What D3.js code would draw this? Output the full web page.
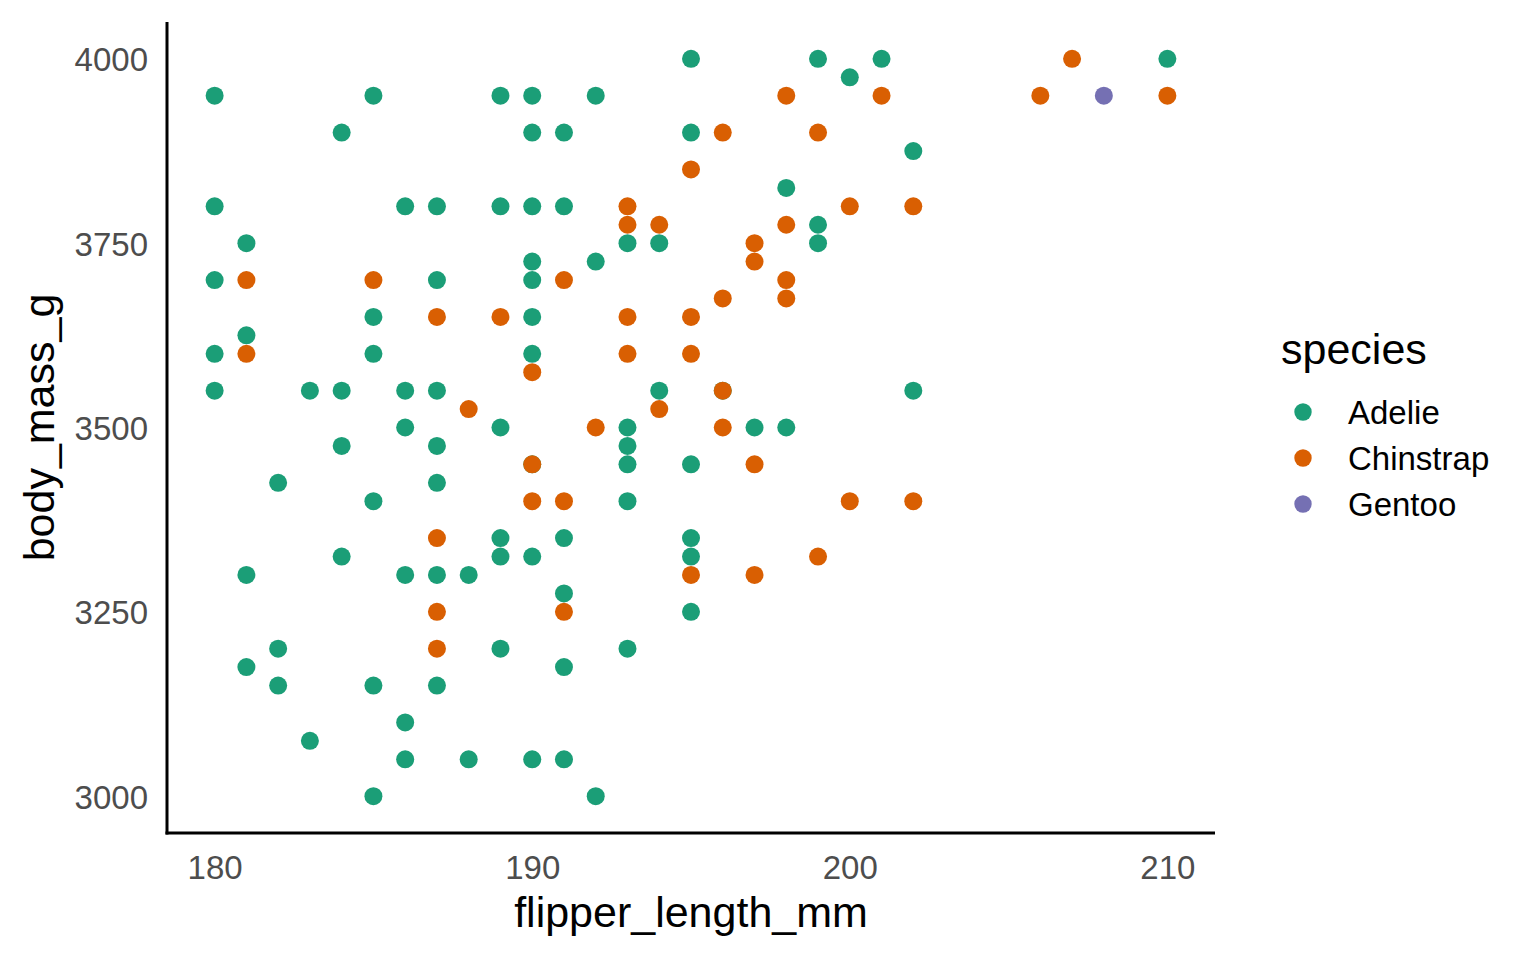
<!DOCTYPE html>
<html>
<head>
<meta charset="utf-8">
<script src="https://cdn.jsdelivr.net/npm/d3@7"></script>
<style>
    body { margin: 0; background: #ffffff; }
    svg { display: block; font-family: "Liberation Sans", Arial, sans-serif; }
    .tick-label { fill: #4d4d4d; font-size: 33px; }
    .axis-title { fill: #000000; font-size: 43px; }
    .legend-label { fill: #000000; font-size: 33px; }
</style>
</head>
<body>
<svg id="chart" width="1536" height="960"></svg>
<script>
// species and their colours (Dark2)
var species = ["Adelie", "Chinstrap", "Gentoo"];
var colors = ["#1b9e77", "#d95f02", "#7570b3"];

// [flipper_length_mm, body_mass_g]
var adelie = [
    [180, 3950], [180, 3800], [180, 3700], [180, 3600], [180, 3550],
    [181, 3750], [181, 3625], [181, 3300], [181, 3175],
    [182, 3425], [182, 3200], [182, 3150],
    [183, 3550], [183, 3075],
    [184, 3900], [184, 3550], [184, 3475], [184, 3325],
    [185, 3950], [185, 3650], [185, 3600], [185, 3400], [185, 3150], [185, 3000],
    [186, 3800], [186, 3550], [186, 3500], [186, 3300], [186, 3100], [186, 3050],
    [187, 3800], [187, 3700], [187, 3550], [187, 3475], [187, 3425], [187, 3300], [187, 3150],
    [188, 3300], [188, 3050],
    [189, 3950], [189, 3800], [189, 3500], [189, 3350], [189, 3325], [189, 3200],
    [190, 3950], [190, 3900], [190, 3800], [190, 3725], [190, 3700], [190, 3650],
    [190, 3600], [190, 3450], [190, 3325], [190, 3050],
    [191, 3900], [191, 3800], [191, 3350], [191, 3275], [191, 3175], [191, 3050],
    [192, 3950], [192, 3725], [192, 3000],
    [193, 3750], [193, 3500], [193, 3475], [193, 3450], [193, 3400], [193, 3200],
    [194, 3750], [194, 3550],
    [195, 4000], [195, 3900], [195, 3450], [195, 3350], [195, 3325], [195, 3250],
    [196, 3550], [197, 3500],
    [198, 3825], [198, 3500],
    [199, 4000], [199, 3775], [199, 3750],
    [200, 3975], [201, 4000],
    [202, 3875], [202, 3550],
    [210, 4000]
];
var gentoo = [[208, 3950]];
var chinstrap = [
    [181, 3700], [181, 3600],
    [185, 3700],
    [187, 3650], [187, 3350], [187, 3250], [187, 3200],
    [188, 3525], [189, 3650],
    [190, 3575], [190, 3450], [190, 3400],
    [191, 3700], [191, 3400], [191, 3250],
    [192, 3500],
    [193, 3800], [193, 3775], [193, 3650], [193, 3600],
    [194, 3775], [194, 3525],
    [195, 3850], [195, 3650], [195, 3600], [195, 3300],
    [196, 3900], [196, 3675], [196, 3550], [196, 3500],
    [197, 3750], [197, 3725], [197, 3450], [197, 3300],
    [198, 3950], [198, 3775], [198, 3700], [198, 3675],
    [199, 3900], [199, 3325],
    [200, 3800], [200, 3400],
    [201, 3950],
    [202, 3800], [202, 3400],
    [206, 3950], [207, 4000], [210, 3950]
];

var xTicks = [180, 190, 200, 210];
var yTicks = [3000, 3250, 3500, 3750, 4000];

(function(){
    var svg = d3.select("#chart");
    var pLeft = 167, pRight = 1215, pTop = 22, pBottom = 833;

    var x = d3.scaleLinear().domain([178.5, 211.5]).range([pLeft, pRight]);
    var y = d3.scaleLinear().domain([2950, 4050]).range([pBottom, pTop]);
    var color = d3.scaleOrdinal().domain(species).range(colors);

    // points, drawn in data order (Adelie, Gentoo, Chinstrap)
    var layers = [["Adelie", adelie], ["Gentoo", gentoo], ["Chinstrap", chinstrap]];
    layers.forEach(function(l){
        svg.append("g").selectAll("circle")
            .data(l[1])
            .enter().append("circle")
            .attr("cx", function(d){ return x(d[0]); })
            .attr("cy", function(d){ return y(d[1]); })
            .attr("r", 9)
            .attr("fill", color(l[0]));
    });

    //axes: just the lines and labels, no ticks
    var xAxis = svg.append("g").attr("transform", "translate(0," + pBottom + ")")
        .call(d3.axisBottom(x).tickValues(xTicks).tickFormat(d3.format("d")).tickSize(0).tickPadding(23));
    var yAxis = svg.append("g").attr("transform", "translate(" + pLeft + ",0)")
        .call(d3.axisLeft(y).tickValues(yTicks).tickFormat(d3.format("d")).tickSize(0).tickPadding(19));

    [xAxis, yAxis].forEach(function(a){
        a.select(".domain").attr("stroke", "#000000").attr("stroke-width", 3);
        a.selectAll("text").attr("class", "tick-label").attr("font-family", null).attr("font-size", null);
    });
    xAxis.select(".domain").attr("d", "M" + (pLeft - 1.5) + ",0H" + pRight);
    yAxis.select(".domain").attr("d", "M0," + (pBottom + 1.5) + "V" + pTop);
    xAxis.selectAll("text").attr("dy", "0.71em");
    yAxis.selectAll("text").attr("dy", "0.36em");

    svg.append("text")
        .attr("class", "axis-title")
        .attr("x", (pLeft + pRight) / 2)
        .attr("y", 927)
        .attr("text-anchor", "middle")
        .text("flipper_length_mm");

    svg.append("text")
        .attr("class", "axis-title")
        .attr("transform", "translate(54," + (pTop + pBottom) / 2 + ") rotate(-90)")
        .attr("text-anchor", "middle")
        .text("body_mass_g");

    // legend
    svg.append("text")
        .attr("class", "axis-title")
        .attr("x", 1281)
        .attr("y", 364)
        .text("species");

    var legend = svg.append("g").selectAll("g")
        .data(species)
        .enter().append("g")
        .attr("transform", function(d, i){ return "translate(1303," + (412 + i * 46) + ")"; });

    legend.append("circle")
        .attr("r", 8.7)
        .attr("fill", function(d){ return color(d); });

    legend.append("text")
        .attr("class", "legend-label")
        .attr("x", 45)
        .attr("y", 12)
        .text(function(d){ return d; });
})();
</script>
</body>
</html>
